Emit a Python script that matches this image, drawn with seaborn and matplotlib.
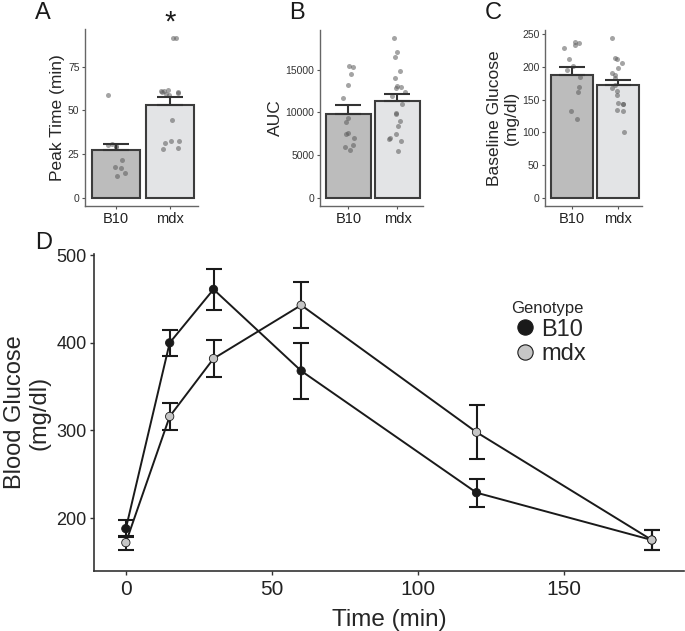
import numpy as np
import pandas as pd
import matplotlib
matplotlib.use("Agg")
import matplotlib.pyplot as plt
import seaborn as sns

# ---- data ----
genotypes = ["B10", "mdx"]

peak_b10 = [58.7, 21.5, 17.8, 16.9, 14.1, 12.7, 29.0, 30.0, 31.0, 29.5]
peak_mdx = [91.7, 91.3, 61.5, 60.5, 59.5, 60.0, 61.0, 59.0, 60.5, 61.0,
            44.8, 32.3, 31.5, 32.6, 28.7, 27.9]
peak_mean = [27.2, 53.4]
peak_sem = [3.6, 4.3]

auc_b10 = [15430, 15270, 14530, 13210, 11660, 9400, 8900, 7650, 7530,
           7070, 6250, 5950, 5630]
auc_mdx = [18770, 17020, 16440, 14840, 14060, 13130, 13020, 12830, 12440,
           11890, 11030, 9980, 9800, 9010, 8470, 7460, 6950, 7070, 6680, 5550]
auc_mean = [9870, 11350]
auc_sem = [1010, 850]

base_b10 = [238.6, 236.5, 234.0, 229.6, 211.7, 201.6, 195.5, 184.3, 168.7,
            161.5, 132.2, 120.5]
base_mdx = [245.0, 213.7, 212.8, 205.6, 198.0, 190.9, 187.4, 183.3, 172.2,
            167.2, 163.5, 156.5, 143.8, 142.9, 145.3, 133.7, 132.7, 100.3]
base_mean = [188.4, 173.2]
base_sem = [11.6, 7.6]

gtt_time = [0, 15, 30, 60, 120, 180]
gtt_b10 = [188, 400, 461, 368, 229, 175]
gtt_b10_sem = [10, 15, 23, 32, 16, 11]
gtt_mdx = [172, 316, 382, 443, 298, 175]
gtt_mdx_sem = [8, 15, 21, 26, 31, 11]

bar_colors = {"B10": "#bcbcbc", "mdx": "#e3e4e6"}
marker_colors = {"B10": "#1a1a1a", "mdx": "#c6c6c6"}

sns.set_style("ticks")
plt.rcParams["font.family"] = ["Liberation Sans", "DejaVu Sans"]

W, H = 685, 631
fig = plt.figure(figsize=(W / 100, H / 100), dpi=100)


def px_axes(left, right, top, bottom):
    return fig.add_axes([left / W, 1 - bottom / H, (right - left) / W, (bottom - top) / H])


def bar_panel(ax, b10, mdx, means, sems, ylabel, yticks, ylim):
    pts = pd.DataFrame({
        "genotype": ["B10"] * len(b10) + ["mdx"] * len(mdx),
        "value": list(b10) + list(mdx),
    })
    sns.barplot(x=genotypes, y=means, hue=genotypes, palette=bar_colors,
                order=genotypes, width=0.9, saturation=1, errorbar=None,
                edgecolor="#3c3c3c", linewidth=1.5, legend=False, ax=ax)
    sns.stripplot(data=pts, x="genotype", y="value", order=genotypes,
                  color="#5a5a5a", alpha=0.55, size=3.6, jitter=0.18,
                  linewidth=0, ax=ax)
    ax.errorbar([0, 1], means, yerr=[[0, 0], sems], fmt="none",
                ecolor="#333333", elinewidth=1.5, capsize=9.5, capthick=1.5,
                zorder=3)
    ax.set_xlim(-0.58, 1.52)
    ax.set_ylim(*ylim)
    ax.set_yticks(yticks)
    ax.set_xlabel("")
    ax.set_ylabel(ylabel, fontsize=12.5, labelpad=2)
    ax.tick_params(axis="y", labelsize=7.5, length=2.5, width=0.8,
                   colors="#555555", labelcolor="#333333", pad=1.5)
    ax.tick_params(axis="x", labelsize=10.5, length=2.5, width=0.8,
                   colors="#555555", labelcolor="#222222", pad=2)
    for s in ["top", "right"]:
        ax.spines[s].set_visible(False)
    for s in ["left", "bottom"]:
        ax.spines[s].set_color("#666666")
        ax.spines[s].set_linewidth(1.0)


np.random.seed(7)

axA = px_axes(85, 198, 29.5, 206)
bar_panel(axA, peak_b10, peak_mdx, peak_mean, peak_sem, "Peak Time (min)",
          [0, 25, 50, 75], (-4.6, 96.3))
axA.text(1, 95.5, "*", ha="center", va="baseline", fontsize=21,
         color="#1a1a1a", clip_on=False)

axB = px_axes(320, 423, 29.5, 206)
bar_panel(axB, auc_b10, auc_mdx, auc_mean, auc_sem, "AUC",
          [0, 5000, 10000, 15000], (-938, 19708))

axC = px_axes(545, 642, 29.5, 206)
bar_panel(axC, base_b10, base_mdx, base_mean, base_sem,
          "Baseline Glucose\n(mg/dl)", [0, 50, 100, 150, 200, 250],
          (-12.25, 257.25))

# ---- panel D: glucose tolerance curve ----
gtt = pd.DataFrame({
    "time": gtt_time * 2,
    "glucose": gtt_b10 + gtt_mdx,
    "sem": gtt_b10_sem + gtt_mdx_sem,
    "Genotype": ["B10"] * len(gtt_time) + ["mdx"] * len(gtt_time),
})

axD = px_axes(93.7, 684, 254.3, 570.7)
sns.lineplot(data=gtt, x="time", y="glucose", hue="Genotype",
             palette={"B10": "#1a1a1a", "mdx": "#1a1a1a"}, linewidth=1.4,
             legend=False, ax=axD, zorder=2)
for g in genotypes:
    sub = gtt[gtt["Genotype"] == g]
    axD.errorbar(sub["time"], sub["glucose"], yerr=sub["sem"], fmt="none",
                 ecolor="#1a1a1a", elinewidth=1.5, capsize=6, capthick=1.5,
                 zorder=2.5)
sns.scatterplot(data=gtt, x="time", y="glucose", hue="Genotype",
                palette=marker_colors, s=36, edgecolor="#1a1a1a",
                linewidth=0.6, ax=axD, zorder=3)

axD.set_xlim(-11, 191)
axD.set_ylim(140, 501)
axD.set_xticks([0, 50, 100, 150])
axD.set_yticks([200, 300, 400, 500])
axD.set_xlabel("Time (min)", fontsize=17.5, labelpad=7)
axD.set_ylabel("Blood Glucose\n(mg/dl)", fontsize=17, labelpad=4)
axD.tick_params(axis="x", labelsize=15, length=3, width=1, colors="#333333",
                labelcolor="#222222", pad=4)
axD.tick_params(axis="y", labelsize=13, length=3, width=1, colors="#333333",
                labelcolor="#222222", pad=2)
for s in ["top", "right"]:
    axD.spines[s].set_visible(False)
for s in ["left", "bottom"]:
    axD.spines[s].set_color("#333333")
    axD.spines[s].set_linewidth(1.2)

handles, labels = axD.get_legend_handles_labels()
for h in handles:
    h.set_markersize(11)
    h.set_markeredgewidth(0.8)
leg = axD.legend(handles, labels, title="Genotype", frameon=False,
                 loc="upper left", bbox_to_anchor=(499 / W, 1 - 289 / H),
                 bbox_transform=fig.transFigure, fontsize=17,
                 title_fontsize=12, handletextpad=0.1, labelspacing=0.12,
                 borderpad=0, alignment="left", handlelength=1.2)

# panel letters
for letter, x, y in [("A", 35, 19), ("B", 289, 19), ("C", 485, 19), ("D", 35, 249)]:
    fig.text(x / W, 1 - y / H, letter, fontsize=17, ha="left", va="baseline",
             color="#1a1a1a")

fig.savefig("out.png", dpi=100)
